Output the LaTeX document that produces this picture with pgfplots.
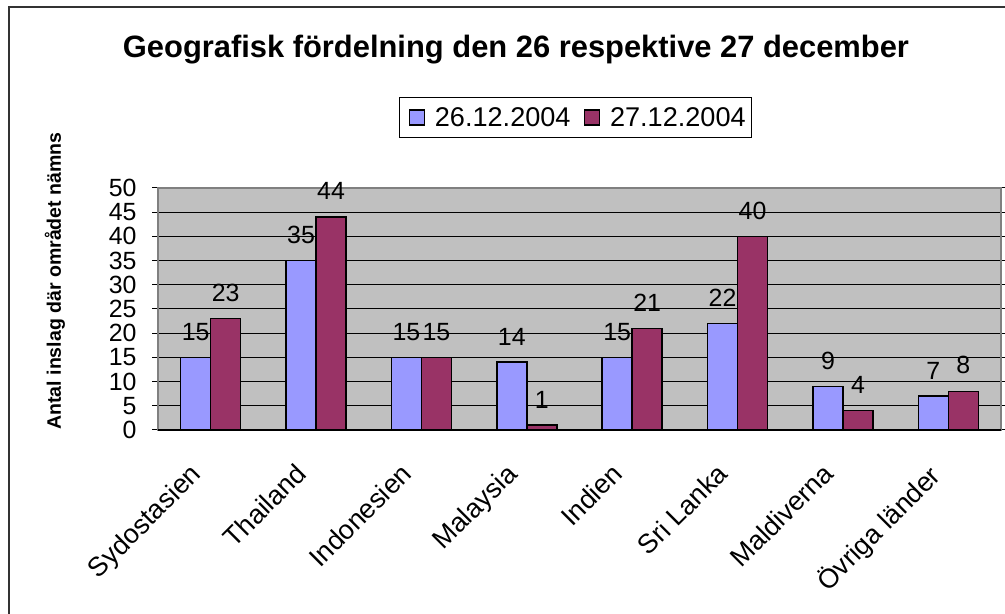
\documentclass[border=0pt]{standalone}
\usepackage{pgfplots}
\pgfplotsset{compat=1.18}
\usepackage{fontspec}
\setmainfont{Liberation Sans}
\definecolor{cblue}{HTML}{9999FF}
\definecolor{cmaroon}{HTML}{993366}
\definecolor{cgray}{HTML}{C0C0C0}
\definecolor{cframe}{HTML}{808080}
\begin{document}
\begin{tikzpicture}[x=1bp,y=1bp]
\useasboundingbox (0,0) rectangle (1005,614);
\draw[line width=1.2bp,black!80] (9,-5) -- (9,607) -- (1010,607);
\node[font=\bfseries\fontsize{31}{36}\selectfont,anchor=base] at (516,556) {Geografisk fördelning den 26 respektive 27 december};
\node[font=\bfseries\fontsize{19.6}{24}\selectfont,rotate=90] at (55,333) {Antal inslag där området nämns};
\begin{axis}[
  at={(158bp,184bp)}, anchor=south west,
  scale only axis, width=843bp, height=242bp,
  xmin=-0.5, xmax=7.5, ymin=0, ymax=50,
  ytick={0,5,...,50},
  ymajorgrids, grid style={black, line width=1bp},
  axis background/.style={fill=cgray},
  axis line style={cframe, line width=1.5bp},
  tick align=outside,
  ytick style={black, line width=1bp},
  major tick length=6bp,
  xtick={0,...,7},
  xticklabels={Sydostasien,Thailand,Indonesien,Malaysia,Indien,Sri Lanka,Maldiverna,Övriga länder},
  xtick style={draw=none},
  extra x ticks={0.5,1.5,...,6.5},
  extra x tick labels={},
  extra x tick style={tick style={draw=cframe, line width=1.2bp}, major tick length=7bp},
  x tick label style={xshift=-22bp, yshift=-21bp, rotate=45, anchor=north east, font=\fontsize{27}{30}\selectfont},
  y tick label style={font=\fontsize{25}{28}\selectfont, xshift=-12bp},
  /pgf/number format/assume math mode=true,
  ybar,
  bar width=0.285,
  nodes near coords,
  every node near coord/.append style={font=\fontsize{25}{28}\selectfont, black, yshift=13bp},
  legend columns=2,
  legend style={at={(0.4953,1.291)}, anchor=center, draw=black, line width=1bp,
    font=\fontsize{27.2}{30}\selectfont, inner xsep=4bp, inner ysep=8bp,
    /tikz/every even column/.append style={column sep=6bp}},
  legend image code/.code={\path (0bp,0bp) (28bp,0bp); \draw[#1, line width=1.2bp] (5bp,-7.5bp) rectangle (20bp,7.5bp);},
  clip=false,
]
\addplot[fill=cblue, draw=black, line width=1.5bp, bar shift=-0.1425] coordinates {
(0,15) (1,35) (2,15) (3,14) (4,15) (5,22) (6,9) (7,7)};
\addplot[fill=cmaroon, draw=black, line width=1.5bp, bar shift=0.1425] coordinates {
(0,23) (1,44) (2,15) (3,1) (4,21) (5,40) (6,4) (7,8)};
\legend{26.12.2004,27.12.2004}
\draw[black, line width=1.5bp] (axis cs:-0.5,0) -- (axis cs:7.5,0);
\end{axis}
\end{tikzpicture}
\end{document}
